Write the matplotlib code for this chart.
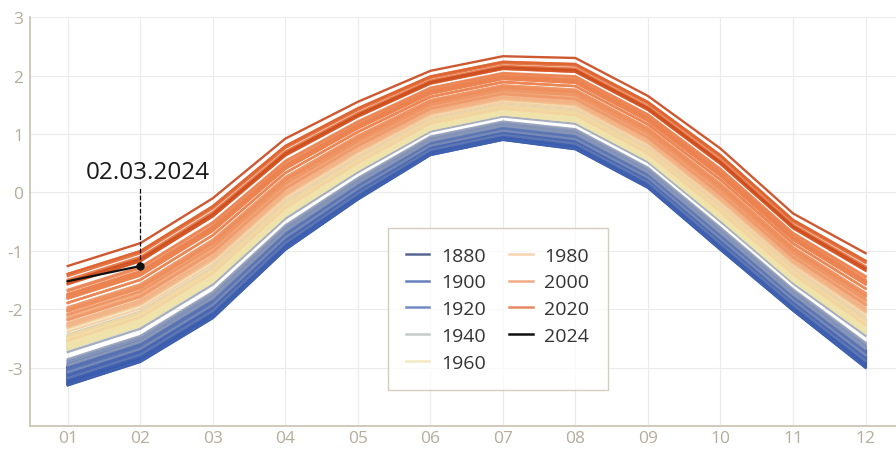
import numpy as np
import matplotlib.pyplot as plt
from matplotlib.colors import LinearSegmentedColormap
from matplotlib.lines import Line2D

months = ["01", "02", "03", "04", "05", "06", "07", "08", "09", "10", "11", "12"]
# lowest (oldest) and highest (recent) curve
low_curve = [-3.3, -2.9, -2.15, -0.98, -0.12, 0.64, 0.9, 0.74, 0.08, -0.98, -2.02, -3.0]
high_curve = [-1.26, -0.87, -0.1, 0.92, 1.55, 2.08, 2.33, 2.3, 1.65, 0.75, -0.36, -1.04]

years = list(range(1880, 2024))
year_anom = [
    -0.30, -0.22, -0.25, -0.30, -0.38, -0.42, -0.40, -0.44, -0.30, -0.24,
    -0.42, -0.33, -0.37, -0.40, -0.41, -0.34, -0.24, -0.24, -0.37, -0.30,
    -0.22, -0.28, -0.38, -0.45, -0.48, -0.36, -0.33, -0.45, -0.46, -0.48,
    -0.45, -0.46, -0.41, -0.40, -0.26, -0.25, -0.41, -0.47, -0.36, -0.33,
    -0.33, -0.26, -0.34, -0.32, -0.33, -0.29, -0.18, -0.28, -0.26, -0.38,
    -0.22, -0.14, -0.20, -0.30, -0.16, -0.20, -0.12, -0.02, 0.02, 0.04,
    0.14, 0.20, 0.10, 0.12, 0.22, 0.12, 0.04, 0.08, 0.06, 0.06,
    0.02, 0.08, 0.12, 0.18, 0.06, 0.05, 0.02, 0.16, 0.18, 0.15,
    0.12, 0.18, 0.15, 0.17, 0.04, 0.08, 0.12, 0.14, 0.10, 0.20,
    0.18, 0.12, 0.18, 0.30, 0.14, 0.20, 0.14, 0.34, 0.26, 0.34,
    0.42, 0.48, 0.32, 0.46, 0.36, 0.34, 0.38, 0.48, 0.54, 0.44,
    0.58, 0.54, 0.42, 0.43, 0.50, 0.58, 0.50, 0.60, 0.72, 0.55,
    0.56, 0.66, 0.74, 0.73, 0.66, 0.78, 0.74, 0.76, 0.66, 0.76,
    0.82, 0.72, 0.76, 0.78, 0.84, 0.96, 1.06, 0.98, 0.92, 1.03,
    1.06, 0.92, 0.95, 1.17,
]
vals_2024 = [-1.52, -1.26]
legend_years = [1880, 1900, 1920, 1940, 1960, 1980, 2000, 2020]

# colour stops by year
stop_years = [1880, 1890, 1910, 1925, 1935, 1942, 1950, 1970, 1980, 1990, 2000, 2014, 2020, 2023]
stop_colors = ["#22336e", "#3050a0", "#3a5cae", "#4a68b2", "#8a98b8", "#c8c6b8", "#ede3b0",
               "#f1e4aa", "#f4c89a", "#f1a072", "#ee8e5c", "#eb8250", "#e06530", "#c8461a"]
cmap = LinearSegmentedColormap.from_list(
    "yrs", [((y - 1880) / (2023 - 1880), c) for y, c in zip(stop_years, stop_colors)])

plt.rcParams['font.family'] = ['Open Sans', 'DejaVu Sans']
plt.rcParams['axes.unicode_minus'] = False

x = np.arange(1, 13)
low = np.array(low_curve)
high = np.array(high_curve)
a = np.array(year_anom)
frac = (a - a.min()) / (a.max() - a.min())

fig = plt.figure(figsize=(8.96, 4.52), dpi=100)
ax = fig.add_axes([0.0335, 0.055, 0.9665, 0.905])

for yr, f in zip(years, frac):
    c = cmap((yr - 1880) / (2023 - 1880))
    ax.plot(x, low + f * (high - low), color=c, lw=1.7, alpha=0.9, zorder=2)

ax.plot(x[:2], vals_2024, color="#111111", lw=1.6, zorder=5)
ax.plot(x[1], vals_2024[1], "o", color="#111111", ms=5, zorder=6)
ax.plot([2, 2], [vals_2024[1], 0.1], ls="--", color="#111111", lw=0.9, zorder=6)
ax.text(2.1, 0.15, "02.03.2024", ha="center", va="bottom", fontsize=17.5,
        color="#1a1a1a")

ax.set_xlim(0.48, 12.42)
ax.set_ylim(-4, 3)
ax.set_xticks(x)
ax.set_xticklabels(months)
ax.set_yticks([-3, -2, -1, 0, 1, 2, 3])
ax.tick_params(length=0, labelsize=12.5, colors="#b5ad9c")
ax.tick_params(axis="x", pad=3)
ax.tick_params(axis="y", pad=5)
ax.grid(True, color="#ebebeb", lw=0.8, zorder=0)
ax.set_axisbelow(True)
for s in ["top", "right"]:
    ax.spines[s].set_visible(False)
for s in ["left", "bottom"]:
    ax.spines[s].set_color("#c9c1ae")
    ax.spines[s].set_linewidth(1.2)

handles = []
for yr in legend_years:
    handles.append(Line2D([], [], color=cmap((yr - 1880) / (2023 - 1880)), lw=1.8, alpha=0.75))
handles.append(Line2D([], [], color="#111111", lw=1.8))
labels = [str(y) for y in legend_years] + ["2024"]
leg = ax.legend(handles, labels, ncol=2, loc="lower left", bbox_to_anchor=(0.413, 0.088),
                borderaxespad=0, fontsize=14, frameon=True, fancybox=False,
                handlelength=1.2, columnspacing=1.2, labelspacing=0.45,
                borderpad=0.95, handletextpad=0.6)
leg.get_frame().set_edgecolor("#c9c1ae")
leg.get_frame().set_linewidth(1.0)
for t in leg.get_texts():
    t.set_color("#333333")

fig.savefig("out.png", dpi=100)
